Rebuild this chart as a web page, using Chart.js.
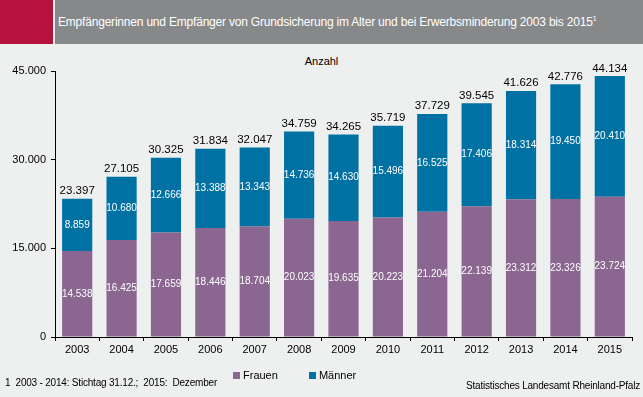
<!DOCTYPE html>
<html lang="de">
<head>
    <meta charset="UTF-8">
    <title>Grundsicherung 2003 bis 2015</title>
    <script src="https://cdn.jsdelivr.net/npm/chart.js"></script>
    <style>
        body {
            margin: 0;
            width: 643px;
            height: 397px;
            background: #eef0ef;
            font-family: 'Liberation Sans', Arial, sans-serif;
            position: relative;
            overflow: hidden;
        }
        .red-box {
            position: absolute; left: 0; top: 0; width: 53px; height: 44px;
            background: #b5123e;
        }
        .header {
            position: absolute; left: 55px; top: 0; width: 588px; height: 44px;
            background: #87888a;
            color: #fff;
            font-size: 12px;
            line-height: 44px;
            padding-left: 3px;
            box-sizing: border-box;
            letter-spacing: -0.2px;
        }
        .header sup { font-size: 7px; vertical-align: 5px; line-height: 0; }
        #chartBox { position: absolute; left: 0; top: 44px; }
        .unit {
            position: absolute; top: 55px; left: 0; width: 643px;
            text-align: center; font-size: 11px; color: #000;
        }
        .legend {
            position: absolute; top: 369px; left: 233px;
            font-size: 11px; color: #000;
        }
        .legend span.box {
            display: inline-block; width: 7px; height: 7px; margin-right: 3px;
        }
        .legend .item { display: inline-block; }
        .foot {
            position: absolute; left: 5px; top: 377px; font-size: 10px; color: #000;
            letter-spacing: -0.2px;
        }
        .source {
            position: absolute; right: 3px; top: 380px; font-size: 10px; color: #000;
            letter-spacing: -0.2px;
        }
    </style>
</head>
<body>
    <div class="red-box"></div>
    <div class="header">Empfängerinnen und Empfänger von Grundsicherung im Alter und bei Erwerbsminderung 2003 bis 2015<sup>1</sup></div>
    <div class="unit">Anzahl</div>
    <canvas id="chartBox" width="643" height="353"></canvas>
    <div class="legend">
        <div class="item"><span class="box" style="background:#8a6690"></span>Frauen</div>
        <div class="item" style="margin-left:28px"><span class="box" style="background:#0071a3"></span>Männer</div>
    </div>
    <div class="foot">1&nbsp; 2003 - 2014: Stichtag 31.12.;&nbsp; 2015:&nbsp; Dezember</div>
    <div class="source">Statistisches Landesamt Rheinland-Pfalz</div>

    <script>
        const years = ['2003', '2004', '2005', '2006', '2007', '2008', '2009', '2010', '2011', '2012', '2013', '2014', '2015'];
        const frauen = [14538, 16425, 17659, 18446, 18704, 20023, 19635, 20223, 21204, 22139, 23312, 23326, 23724];
        const maenner = [8859, 10680, 12666, 13388, 13343, 14736, 14630, 15496, 16525, 17406, 18314, 19450, 20410];
        const totals = [23397, 27105, 30325, 31834, 32047, 34759, 34265, 35719, 37729, 39545, 41626, 42776, 44134];
        const yTicks = [0, 15000, 30000, 45000];

        const FONT = "'Liberation Sans', Arial, sans-serif";

        function fmt(n) {
            return String(n).replace(/\B(?=(\d{3})+(?!\d))/g, '.');
        }

        // white numbers inside the segments, black totals on top
        const barLabels = {
            id: 'barLabels',
            afterDatasetsDraw(chart) {
                const ctx = chart.ctx;
                ctx.save();
                ctx.textAlign = 'center';
                chart.data.datasets.forEach((ds, i) => {
                    const meta = chart.getDatasetMeta(i);
                    meta.data.forEach((bar, j) => {
                        ctx.font = '10px ' + FONT;
                        ctx.fillStyle = '#ffffff';
                        ctx.textBaseline = 'middle';
                        ctx.fillText(fmt(ds.data[j]), bar.x, (bar.y + bar.base) / 2);
                        if (i === chart.data.datasets.length - 1) {
                            ctx.font = '11.5px ' + FONT;
                            ctx.fillStyle = '#000000';
                            ctx.textBaseline = 'bottom';
                            ctx.fillText(fmt(totals[j]), bar.x, bar.y - 2);
                        }
                    });
                });
                ctx.restore();
            }
        };

        new Chart(document.getElementById('chartBox'), {
            type: 'bar',
            data: {
                labels: years,
                datasets: [
                    { label: 'Frauen', data: frauen, backgroundColor: '#8a6690' },
                    { label: 'Männer', data: maenner, backgroundColor: '#0071a3' }
                ]
            },
            options: {
                responsive: false,
                devicePixelRatio: 1,
                animation: false,
                layout: { padding: { left: 0, right: 11, top: 27, bottom: 30 } },
                datasets: { bar: { categoryPercentage: 1, barPercentage: 0.68 } },
                plugins: {
                    legend: { display: false },
                    tooltip: { enabled: false }
                },
                scales: {
                    x: {
                        stacked: true,
                        afterFit(scale) { scale.height = 30; },
                        grid: { offset: true, drawOnChartArea: false, tickLength: 4, color: '#000' },
                        border: { color: '#000' },
                        ticks: { color: '#000', padding: 2, font: { family: FONT, size: 11 } }
                    },
                    y: {
                        stacked: true,
                        min: 0,
                        max: 45000,
                        afterFit(scale) { scale.width = 55; },
                        afterBuildTicks(scale) { scale.ticks = yTicks.map(v => ({ value: v })); },
                        grid: { drawOnChartArea: false, tickLength: 4, color: '#000' },
                        border: { color: '#000' },
                        ticks: {
                            color: '#000', padding: 5,
                            font: { family: FONT, size: 11 },
                            callback: v => fmt(v)
                        }
                    }
                }
            },
            plugins: [barLabels]
        });
    </script>
</body>
</html>
